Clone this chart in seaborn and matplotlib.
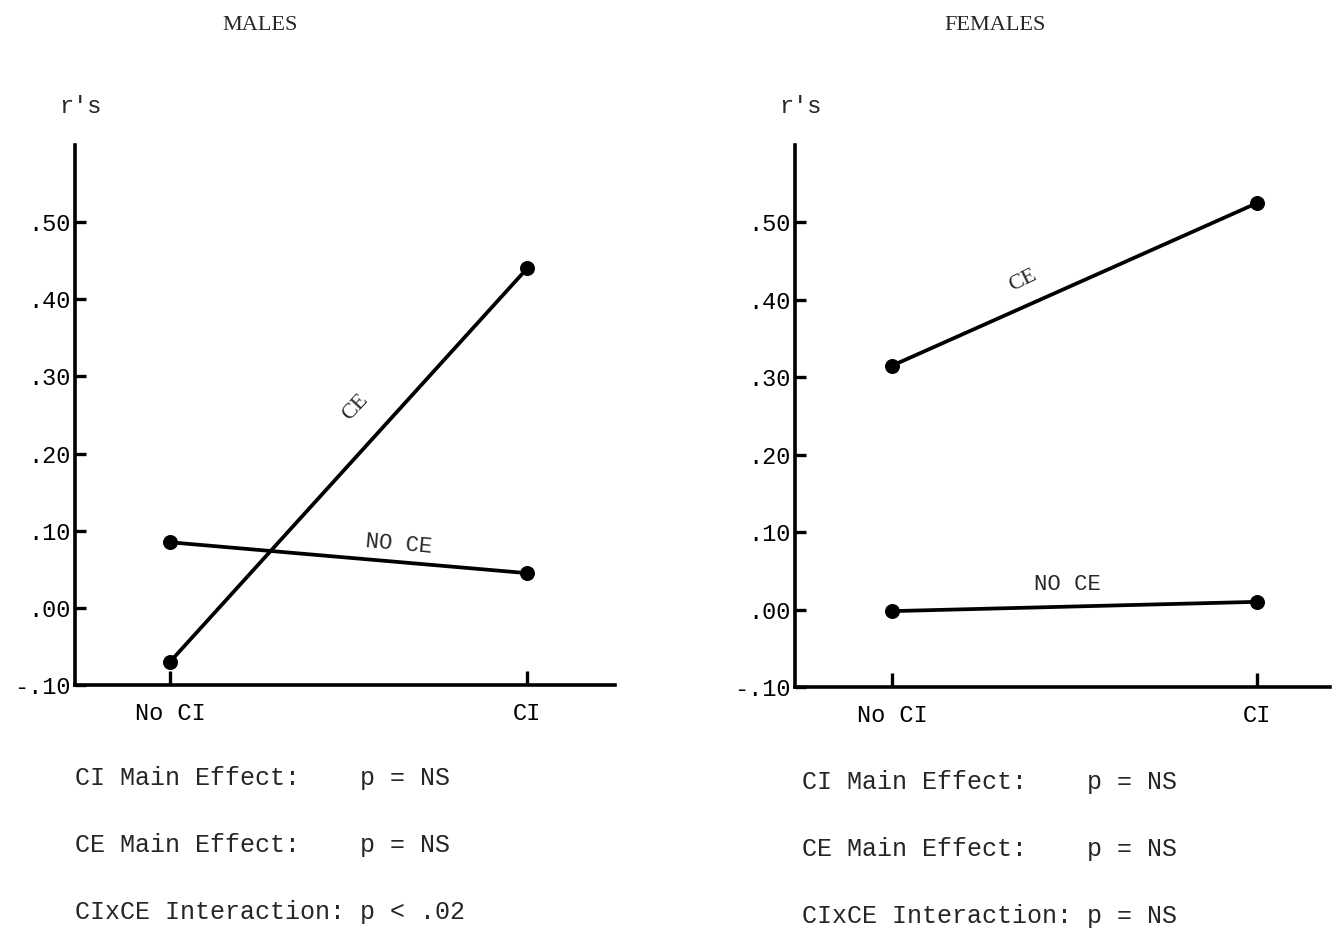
import matplotlib
matplotlib.use("Agg")
import matplotlib.pyplot as plt
import pandas as pd
import seaborn as sns

sns.set_theme(style="white")
plt.rcParams["font.family"] = ["Liberation Mono", "DejaVu Sans"]

# values
conditions = ["No CI", "CI"]
males_ce = [-0.07, 0.44]
males_noce = [0.085, 0.045]
females_ce = [0.315, 0.525]
females_noce = [-0.002, 0.01]

yticks = [-0.10, 0.00, 0.10, 0.20, 0.30, 0.40, 0.50]
ytick_labels = ["-.10", ".00", ".10", ".20", ".30", ".40", ".50"]

males_stats = ["CI Main Effect:    p = NS",
               "CE Main Effect:    p = NS",
               "CIxCE Interaction: p < .02"]
females_stats = ["CI Main Effect:    p = NS",
                 "CE Main Effect:    p = NS",
                 "CIxCE Interaction: p = NS"]

W, H = 1339, 934
fig = plt.figure(figsize=(W / 100, H / 100), dpi=100)


def px_axes(left, top, right, bottom):
    return fig.add_axes([left / W, 1 - bottom / H, (right - left) / W, (bottom - top) / H])


def panel(ax, ce, noce, xlim, ce_lab, noce_lab):
    df = pd.DataFrame({
        "pos": [0, 1, 0, 1],
        "r": ce + noce,
        "group": ["CE", "CE", "NO CE", "NO CE"],
    })
    sns.lineplot(data=df, x="pos", y="r", hue="group", palette=["black", "black"],
                 marker="o", markersize=10, linewidth=2.7, markeredgecolor="black",
                 legend=False, ax=ax)
    ax.set_xlim(*xlim)
    ax.set_ylim(-0.10, 0.60)
    ax.set_xticks([0, 1])
    ax.set_xticklabels(conditions)
    ax.set_yticks(yticks)
    ax.set_yticklabels(ytick_labels)
    ax.set_xlabel("")
    ax.set_ylabel("")
    for s in ["top", "right"]:
        ax.spines[s].set_visible(False)
    for s in ["left", "bottom"]:
        ax.spines[s].set_linewidth(2.6)
        ax.spines[s].set_color("black")
    ax.tick_params(axis="y", direction="in", length=8, width=2.4, pad=3,
                   labelsize=17, left=True, colors="black")
    ax.tick_params(axis="x", direction="in", length=10, width=2.4, pad=12,
                   labelsize=17, bottom=True, colors="black")
    ax.text(*ce_lab[:2], "CE", rotation=ce_lab[2], fontsize=16,
            family="Liberation Serif", ha="center", va="center")
    ax.text(*noce_lab[:2], "NO CE", rotation=noce_lab[2], fontsize=16,
            ha="center", va="center")
    ax.text(-0.31, 0.635, "r's", fontsize=17, ha="left", va="bottom",
            transform=ax.transData, clip_on=False)


ax1 = px_axes(75, 145, 615, 685)
panel(ax1, males_ce, males_noce, (-0.266, 1.246), (0.52, 0.26, 47), (0.64, 0.082, -5))

ax2 = px_axes(795, 145, 1330, 687)
panel(ax2, females_ce, females_noce, (-0.266, 1.20), (0.36, 0.425, 26), (0.48, 0.032, 0))

fig.text(260 / W, 1 - 25 / H, "MALES", family="Liberation Serif", fontsize=16,
         ha="center", va="center")
fig.text(995 / W, 1 - 25 / H, "FEMALES", family="Liberation Serif", fontsize=16,
         ha="center", va="center")

for i, (a, b) in enumerate(zip(males_stats, females_stats)):
    fig.text(75 / W, 1 - (778 + 67 * i) / H, a, fontsize=18, ha="left", va="center")
    fig.text(802 / W, 1 - (782 + 67 * i) / H, b, fontsize=18, ha="left", va="center")

fig.savefig("out.png", dpi=100, facecolor="white")
